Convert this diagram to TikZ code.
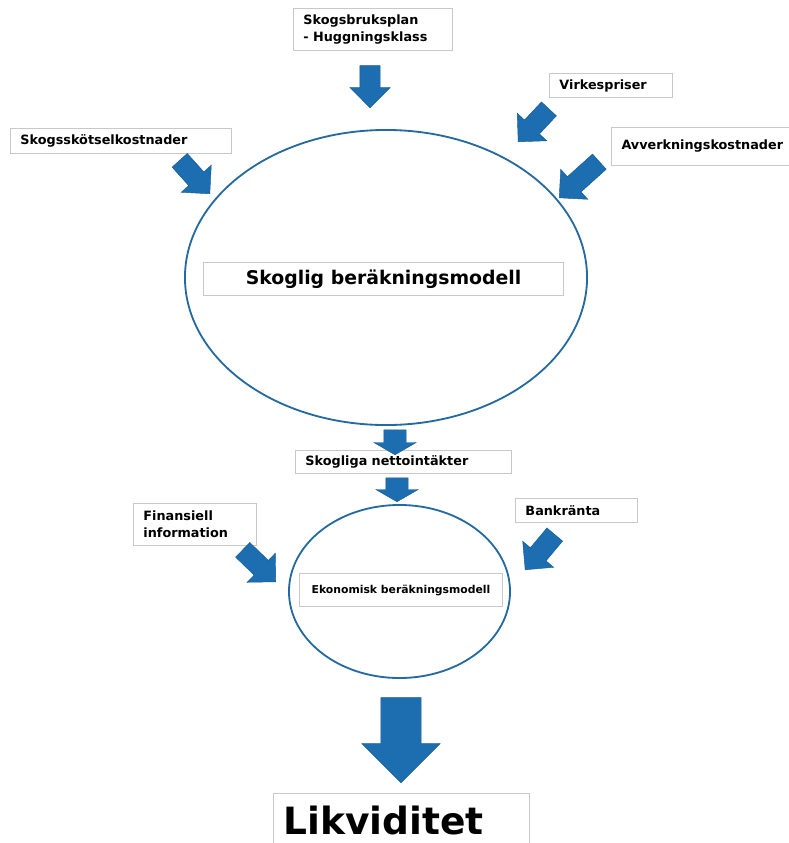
\documentclass[tikz,border=0pt]{standalone}
\usepackage{fontspec}
\setmainfont{DejaVu Sans}
\usetikzlibrary{shapes.geometric}
\usetikzlibrary{shapes.arrows}

\definecolor{flowblue}{RGB}{28,110,176}
\definecolor{flowedge}{RGB}{22,88,145}
\definecolor{ringblue}{RGB}{36,106,160}
\definecolor{boxgray}{RGB}{200,200,200}

\tikzset{
  infobox/.style={rectangle, draw=boxgray, line width=0.7pt, fill=white, anchor=north west,
    inner xsep=0.25cm, inner ysep=0pt, align=left, font=\bfseries\fontsize{9.1}{12}\selectfont},
  modelbox/.style={rectangle, draw=boxgray, line width=0.7pt, fill=white, anchor=north west,
    inner sep=0pt, align=center},
  ring/.style={ellipse, draw=ringblue, line width=1.3pt, inner sep=0pt},
  flowarrow/.style={single arrow, fill=flowblue, draw=flowedge, line width=0.3pt,
    inner xsep=0pt, inner ysep=0.25cm, single arrow head extend=0.25cm,
    anchor=tip, minimum height=1.125cm},
}

\begin{document}
\begin{tikzpicture}[x=0.025cm,y=-0.025cm]
  \clip (0,0) rectangle (789,843);

  % Drawing the two model rings
  \node[ring, minimum width=10.05cm, minimum height=7.375cm] (skogring) at (386,277.5) {};
  \node[ring, minimum width=5.525cm, minimum height=4.325cm] (ekoring) at (399.5,591.5) {};

  % Drawing input boxes
  \node[infobox, text width=3.475cm, minimum height=1.05cm] (plan) at (293,8) {Skogsbruksplan\\- Huggningsklass};
  \node[infobox, text width=2.575cm, minimum height=0.6cm] (virke) at (549,73) {Virkespriser};
  \node[infobox, text width=3.95cm, minimum height=0.95cm] (avverk) at (611,127) {Avverkningskostnader};
  \node[infobox, text width=5.025cm, minimum height=0.625cm] (skotsel) at (10,128) {Skogsskötselkostnader};
  \node[infobox, text width=4.9cm, minimum height=0.575cm] (netto) at (295,450) {Skogliga nettointäkter};
  \node[infobox, text width=2.575cm, minimum height=1.05cm] (finans) at (133,503) {Finansiell\\information};
  \node[infobox, text width=2.55cm, minimum height=0.6cm] (bank) at (515,498) {Bankränta};

  % Drawing model labels
  \node[modelbox, minimum width=9cm, minimum height=0.825cm,
        font=\bfseries\fontsize{13.4}{15}\selectfont] (skogmodell) at (203,262) {Skoglig beräkningsmodell};
  \node[modelbox, minimum width=5.075cm, minimum height=0.825cm,
        font=\bfseries\fontsize{7.7}{9}\selectfont] (ekomodell) at (299,573) {Ekonomisk beräkningsmodell};

  % Drawing the result box
  \node[infobox, text width=5.9cm, minimum height=1.35cm,
        font=\bfseries\fontsize{26.7}{30}\selectfont] (likv) at (273,793) {Likviditet};

  % Drawing block arrows
  \node[flowarrow, rotate=-90, minimum height=1.05cm] (aplan) at (370,108) {};
  \node[flowarrow, rotate=-133] (avirke) at (518,142) {};
  \node[flowarrow, rotate=-138, minimum height=1.35cm] (aavverk) at (559,198) {};
  \node[flowarrow, rotate=-48] (askotsel) at (210,194) {};
  \node[flowarrow, rotate=-90, minimum height=0.625cm, inner ysep=0.275cm,
        single arrow tip angle=120] (aut) at (395,455) {};
  \node[flowarrow, rotate=-90, minimum height=0.6cm, inner ysep=0.275cm,
        single arrow tip angle=120] (ain) at (397,502) {};
  \node[flowarrow, rotate=-44, minimum height=1.15cm] (afinans) at (276,582) {};
  \node[flowarrow, rotate=-130, minimum height=1.15cm] (abank) at (525,570) {};
  \node[flowarrow, rotate=-90, minimum height=2.125cm, inner ysep=0.5cm,
        single arrow head extend=0.475cm] (alikv) at (401,783) {};
\end{tikzpicture}
\end{document}
